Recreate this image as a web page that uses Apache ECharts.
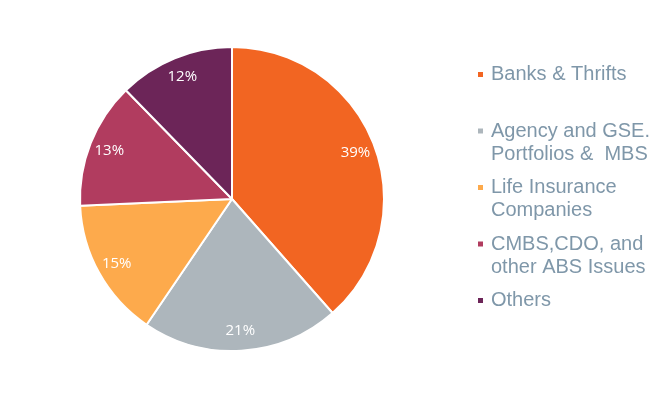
<!DOCTYPE html>
<html>
<head>
<meta charset="utf-8">
<script src="https://cdn.jsdelivr.net/npm/echarts@6/dist/echarts.min.js"></script>
<style>
  html, body { margin: 0; padding: 0; background: #fff; }
  #holders { width: 672px; height: 398px; }
</style>
</head>
<body>
<div id="holders"></div>
<script>
  // holder types, share of total (%)
  var categories = [
    "Banks & Thrifts",
    "Agency and GSE.\nPortfolios &  MBS",
    "Life Insurance\nCompanies",
    "CMBS,CDO, and\nother ABS Issues",
    "Others"
  ];
  var shares = [38.5, 21.0, 14.8, 13.4, 12.3];
  var colors = ["#F26522", "#ADB6BC", "#FDAA4C", "#B13C5F", "#6C2558"];

  var pieData = categories.map(function (name, i) {
    return { name: name, value: shares[i], itemStyle: { color: colors[i] } };
  });

  var chart = echarts.init(document.getElementById("holders"));
  chart.setOption({
    backgroundColor: "#fff",
    animation: false,
    legend: {
      orient: "vertical",
      left: 476,
      top: 63,
      padding: 0,
      itemWidth: 7,
      itemHeight: 30,
      itemGap: 10.5,
      // small square at the top of a tall (invisible) box so it sits on the first text line
      icon: "path://M0,0h7v7h-7z M0,29.99h0.01v0.01h-0.01z",
      selectedMode: false,
      data: categories,
      // every entry takes a two-line slot
      formatter: function (name) {
        return name.indexOf("\n") < 0 ? name + "\n " : name;
      },
      textStyle: {
        fontFamily: "Liberation Sans, Arial, sans-serif",
        fontSize: 20,
        lineHeight: 23,
        color: "#7F97A9",
        padding: [0, 0, 0, 2]
      }
    },
    series: [
      {
        type: "pie",
        center: [232, 199],
        radius: [0, 152],
        startAngle: 90,
        silent: true,
        itemStyle: { borderColor: "#fff", borderWidth: 2 },
        label: { show: false },
        labelLine: { show: false },
        data: pieData
      },
      {
        // transparent ring only to place the % labels near the rim
        type: "pie",
        center: [232, 199],
        radius: [106, 152],
        startAngle: 90,
        silent: true,
        itemStyle: { color: "transparent", borderWidth: 0 },
        label: {
          show: true,
          position: "inside",
          formatter: function (p) { return Math.round(p.value) + "%"; },
          color: "#fff",
          fontFamily: "Open Sans, sans-serif",
          fontSize: 15
        },
        labelLine: { show: false },
        data: categories.map(function (name, i) {
          return { name: name, value: shares[i] };
        })
      }
    ]
  });
</script>
</body>
</html>
